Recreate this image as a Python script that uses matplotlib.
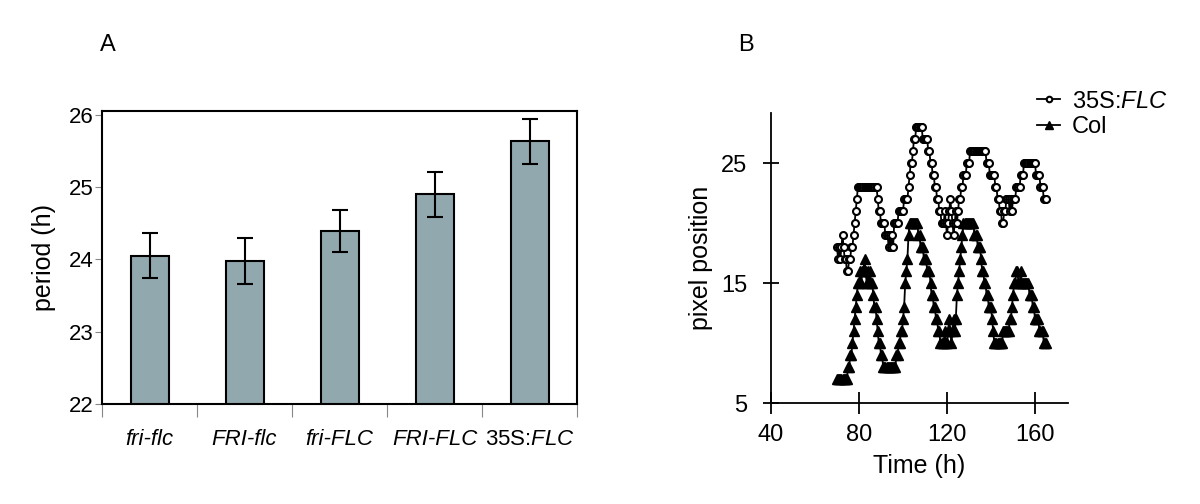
import numpy as np
import matplotlib
matplotlib.use("Agg")
import matplotlib.pyplot as plt

plt.rcParams['font.family'] = ['Liberation Sans', 'DejaVu Sans']
plt.rcParams['mathtext.fontset'] = 'custom'
plt.rcParams['mathtext.rm'] = 'Liberation Sans'
plt.rcParams['mathtext.it'] = 'Liberation Sans:italic'

# Panel A data: free-running period per genotype
genotypes = ['fri-flc', 'FRI-flc', 'fri-FLC', 'FRI-FLC', '35S:$\\mathit{FLC}$']
period = [24.05, 23.98, 24.39, 24.90, 25.63]
period_err = [0.31, 0.32, 0.29, 0.31, 0.31]

# Panel B data: pixel position sampled every 0.5 h from 70 h
time_start = 70.0
time_step = 0.5
flc_35s = [18, 17, 18, 17, 18, 19, 18, 17, 17, 16,
           16, 17, 17, 18, 18, 19, 20, 21, 22, 23,
           23, 23, 23, 23, 23, 23, 23, 23, 23, 23,
           23, 23, 23, 23, 23, 23, 23, 22, 21, 21,
           20, 20, 20, 20, 19, 19, 19, 18, 19, 18,
           19, 18, 20, 20, 20, 20, 21, 21, 21, 21,
           21, 22, 22, 22, 22, 23, 24, 25, 25, 26,
           27, 27, 28, 28, 28, 28, 28, 28, 27, 27,
           27, 27, 27, 26, 26, 25, 25, 24, 24, 23,
           23, 22, 22, 21, 21, 20, 20, 20, 21, 20,
           19, 20, 21, 22, 21, 20, 19, 20, 21, 20,
           21, 22, 22, 23, 23, 24, 24, 24, 25, 25,
           25, 26, 26, 26, 26, 26, 26, 26, 26, 26,
           26, 26, 26, 26, 26, 26, 25, 25, 25, 24,
           24, 24, 24, 24, 23, 23, 22, 22, 21, 21,
           20, 20, 21, 21, 22, 22, 22, 21, 22, 21,
           22, 22, 22, 23, 23, 23, 23, 24, 24, 24,
           25, 25, 25, 25, 25, 25, 25, 25, 25, 25,
           25, 24, 24, 24, 24, 23, 23, 23, 22, 22, 22]
col = [7, 7, 7, 7, 7, 7, 7, 7, 7, 7,
       8, 8, 9, 9, 10, 11, 12, 13, 14, 15,
       15, 16, 15, 16, 16, 17, 16, 15, 16, 15,
       16, 15, 15, 14, 13, 13, 12, 11, 10, 10,
       9, 9, 8, 8, 8, 8, 8, 8, 8, 8,
       8, 8, 8, 8, 9, 9, 10, 10, 11, 11,
       12, 13, 15, 16, 17, 19, 20, 20, 20, 20,
       20, 20, 20, 20, 19, 19, 18, 18, 18, 17,
       17, 17, 16, 16, 16, 15, 14, 14, 13, 13,
       12, 12, 11, 11, 10, 10, 10, 10, 11, 10,
       10, 11, 12, 11, 10, 11, 12, 11, 12, 14,
       15, 16, 17, 18, 19, 20, 20, 20, 20, 20,
       20, 20, 20, 20, 20, 19, 19, 19, 18, 18,
       18, 17, 16, 16, 15, 15, 14, 14, 13, 13,
       13, 12, 11, 10, 10, 10, 10, 10, 10, 10,
       10, 11, 11, 11, 11, 11, 11, 12, 12, 13,
       14, 15, 15, 16, 16, 15, 15, 16, 15, 15,
       15, 15, 15, 15, 15, 14, 14, 14, 13, 13,
       12, 12, 12, 12, 11, 11, 11, 11, 10, 10, 10]

times = time_start + time_step * np.arange(len(col))

fig = plt.figure(figsize=(12, 5.04), dpi=100)

# ---- Panel A: bar chart with error bars
axA = fig.add_axes([0.085, 0.198, 0.396, 0.582])
x = np.arange(len(genotypes))
axA.bar(x, period, width=0.4, color='#91a8ae', edgecolor='black', linewidth=1.5, zorder=2)
axA.errorbar(x, period, yerr=period_err, fmt='none', ecolor='black',
             elinewidth=1.5, capsize=6, capthick=1.5, zorder=3)
axA.set_xlim(-0.5, 4.5)
axA.set_ylim(22, 26.05)
axA.set_yticks([22, 23, 24, 25, 26])
axA.set_xticks(x)
axA.set_xticklabels(genotypes)
for lab in axA.get_xticklabels()[:4]:
    lab.set_fontstyle('italic')
axA.set_xticks(np.arange(-0.5, 5.0, 1.0), minor=True)
axA.tick_params(axis='x', which='major', length=0, pad=18, labelsize=16)
axA.tick_params(axis='x', which='minor', length=9, width=0.8, color='#888888')
axA.tick_params(axis='y', length=5, width=0.8, color='#888888', pad=1, labelsize=16)
for sp in axA.spines.values():
    sp.set_linewidth(1.5)
axA.set_ylabel('period (h)', fontsize=18, labelpad=9)
fig.text(0.083, 0.91, 'A', fontsize=17, ha='left', va='center')

# ---- Panel B: pixel position traces
axB = fig.add_axes([0.6425, 0.2, 0.2475, 0.576])
axB.plot(times, flc_35s, color='black', linewidth=1.3, marker='o', markersize=5,
         markerfacecolor='white', markeredgecolor='black', markeredgewidth=1.5,
         label='35S:$\\mathit{FLC}$', zorder=3)
axB.plot(times, col, color='black', linewidth=1.3, marker='^', markersize=7.5,
         markerfacecolor='black', markeredgecolor='black', label='Col', zorder=2)
axB.set_xlim(40, 175)
axB.set_ylim(5, 29.2)
axB.set_xticks([40, 80, 120, 160])
axB.set_yticks([5, 15, 25])
axB.spines['top'].set_visible(False)
axB.spines['right'].set_visible(False)
axB.spines['left'].set_linewidth(1.3)
axB.spines['bottom'].set_linewidth(1.3)
axB.tick_params(axis='x', direction='inout', length=16, width=1.3, pad=7, labelsize=17)
axB.tick_params(axis='y', direction='inout', length=12, width=1.3, pad=11, labelsize=17)
axB.set_xlabel('Time (h)', fontsize=18, labelpad=6)
axB.set_ylabel('pixel position', fontsize=18, labelpad=6)
fig.legend(loc='upper left', bbox_to_anchor=(0.864, 0.82), frameon=False,
           fontsize=17, handlelength=1.0, handletextpad=0.5, labelspacing=0.15,
           borderpad=0, borderaxespad=0, markerscale=0.8)
fig.text(0.615, 0.91, 'B', fontsize=17, ha='left', va='center')

fig.savefig('out.png', dpi=100)
